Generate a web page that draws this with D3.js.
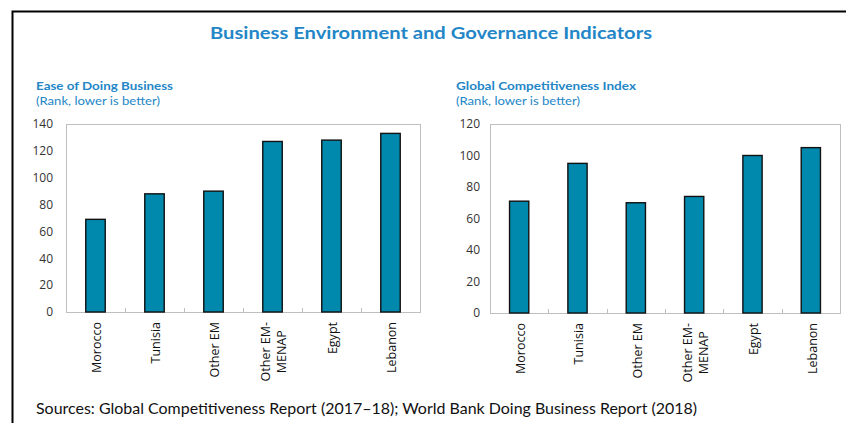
<!DOCTYPE html>
<html>
<head>
<meta charset="utf-8">
<script src="https://cdn.jsdelivr.net/npm/d3@7"></script>
<style>
  html, body { margin: 0; padding: 0; background: #fff; }
  svg { display: block; }
</style>
</head>
<body>
<svg id="chart" width="846" height="423"></svg>
<script>
// ---- Data ----
const categories = ["Morocco", "Tunisia", "Other EM", "Other EM-\nMENAP", "Egypt", "Lebanon"];
const doingBusinessRank = [69, 88, 90, 127, 128, 133];
const competitivenessRank = [71, 95, 70, 74, 100, 105];
const doingBusinessTicks = [0, 20, 40, 60, 80, 100, 120, 140];
const competitivenessTicks = [0, 20, 40, 60, 80, 100, 120];

const titleText = "Business Environment and Governance Indicators";
const sourceText = "Sources: Global Competitiveness Report (2017\u201318); World Bank Doing Business Report (2018)";

// ---- Styles ----
const BLUE = "#2386c7";
const BAR = "#0089ad";
const FRAME = "#bfbfbf";
const HEAD_FONT = "Lato, 'Open Sans', sans-serif";
const TICK_FONT = "'Open Sans', 'DejaVu Sans', sans-serif";

const svg = d3.select("#chart");

// Outer box (only its top and left edges fall inside the view)
svg.append("path")
  .attr("d", "M12.5,423 L12.5,11.5 L846,11.5")
  .attr("fill", "none")
  .attr("stroke", "#000")
  .attr("stroke-width", 2);

// Main title
svg.append("text")
  .attr("x", 431).attr("y", 38.5)
  .attr("text-anchor", "middle")
  .attr("font-family", HEAD_FONT)
  .attr("font-weight", 700)
  .attr("font-size", 17)
  .attr("fill", BLUE)
  .attr("textLength", 442)
  .attr("lengthAdjust", "spacingAndGlyphs")
  .text(titleText);

// Source note
svg.append("text")
  .attr("x", 36).attr("y", 414)
  .attr("font-family", HEAD_FONT)
  .attr("font-size", 15)
  .attr("fill", "#111")
  .attr("textLength", 661)
  .attr("lengthAdjust", "spacingAndGlyphs")
  .text(sourceText);

function drawPanel(opts) {
  const { left, right, top, bottom, values, ticks, maxV, title, titleW, subtitle, subW, textX, labelGap } = opts;
  const g = svg.append("g");

  // Panel headings
  g.append("text")
    .attr("x", textX).attr("y", 90)
    .attr("font-family", HEAD_FONT)
    .attr("font-weight", 700)
    .attr("font-size", 12)
    .attr("fill", BLUE)
    .attr("textLength", titleW)
    .attr("lengthAdjust", "spacingAndGlyphs")
    .text(title);
  g.append("text")
    .attr("x", textX).attr("y", 104.5)
    .attr("font-family", HEAD_FONT)
    .attr("font-size", 12)
    .attr("fill", BLUE)
    .attr("textLength", subW)
    .attr("lengthAdjust", "spacingAndGlyphs")
    .text(subtitle);

  const x = d3.scaleBand()
    .domain(categories)
    .range([left, right])
    .paddingInner(0.67)
    .paddingOuter(0.335);
  const y = d3.scaleLinear().domain([0, maxV]).range([bottom, top]);
  const step = x.step();

  // Plot frame
  g.append("rect")
    .attr("x", left + 0.5).attr("y", top + 0.5)
    .attr("width", right - left).attr("height", bottom - top)
    .attr("fill", "none")
    .attr("stroke", FRAME)
    .attr("stroke-width", 1);

  // Category boundary ticks on the baseline
  g.selectAll("line.cat-tick")
    .data(d3.range(1, categories.length))
    .join("line")
    .attr("class", "cat-tick")
    .attr("x1", i => Math.round(left + step * i) + 0.5)
    .attr("x2", i => Math.round(left + step * i) + 0.5)
    .attr("y1", bottom)
    .attr("y2", bottom - 4)
    .attr("stroke", FRAME);

  // Y axis labels
  const yAxis = d3.axisLeft(y).tickValues(ticks).tickSize(0).tickPadding(labelGap);
  const ya = g.append("g").attr("transform", `translate(${left},0)`).call(yAxis);
  ya.select(".domain").remove();
  ya.selectAll("text")
    .attr("font-family", TICK_FONT)
    .attr("font-size", 12)
    .attr("fill", "#333");

  // Bars
  g.selectAll("rect.bar")
    .data(values)
    .join("rect")
    .attr("class", "bar")
    .attr("x", (d, i) => x(categories[i]))
    .attr("y", d => y(d))
    .attr("width", x.bandwidth())
    .attr("height", d => bottom - y(d))
    .attr("fill", BAR)
    .attr("stroke", "#111")
    .attr("stroke-width", 1.4);

  // Rotated category labels, block aligned at the top
  const labelTop = bottom + 10;
  categories.forEach(cat => {
    const lines = cat.split("\n");
    const cx = x(cat) + x.bandwidth() / 2 + 1.5;
    const lg = g.append("g");
    const nodes = lines.map((ln, k) => {
      const off = (k - (lines.length - 1) / 2) * 16;
      return lg.append("text")
        .attr("font-family", TICK_FONT)
        .attr("font-size", 12.5)
        .attr("fill", "#111")
        .attr("dy", "0.35em")
        .text(ln)
        .attr("data-off", off);
    });
    const lens = nodes.map(n => n.node().getComputedTextLength());
    const maxLen = d3.max(lens);
    nodes.forEach((n, k) => {
      const off = +n.attr("data-off");
      if (lines.length === 1) {
        n.attr("text-anchor", "end")
          .attr("transform", `translate(${cx + off},${labelTop}) rotate(-90)`);
      } else {
        n.attr("text-anchor", "middle")
          .attr("transform", `translate(${cx + off},${labelTop + maxLen / 2}) rotate(-90)`);
      }
    });
  });
}

drawPanel({
  left: 66, right: 420, top: 124, bottom: 312,
  values: doingBusinessRank, ticks: doingBusinessTicks, maxV: 140,
  title: "Ease of Doing Business", titleW: 137,
  subtitle: "(Rank, lower is better)", subW: 124,
  textX: 36, labelGap: 13
});

drawPanel({
  left: 490, right: 840, top: 124, bottom: 313,
  values: competitivenessRank, ticks: competitivenessTicks, maxV: 120,
  title: "Global Competitiveness Index", titleW: 180,
  subtitle: "(Rank, lower is better)", subW: 124,
  textX: 456, labelGap: 10
});
</script>
</body>
</html>
